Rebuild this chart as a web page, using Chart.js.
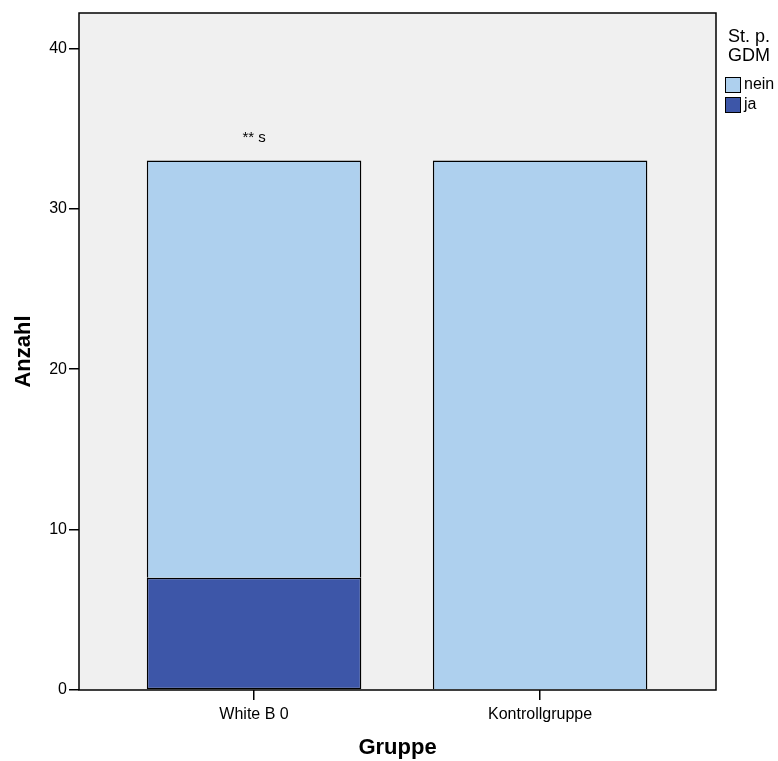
<!DOCTYPE html>
<html>
<head>
<meta charset="utf-8">
<script src="https://cdn.jsdelivr.net/npm/chart.js@4"></script>
<style>
  body { margin: 0; background: #fff; }
  canvas { display: block; }
</style>
</head>
<body>
<canvas id="chart" width="778" height="761"></canvas>
<script>
const groups = ["White B 0", "Kontrollgruppe"];
const jaCounts = [7, 0];
const neinCounts = [26, 33];
const notes = ["** s", ""];
const legendTitle = ["St. p.", "GDM"];
const yTicks = [0, 10, 20, 30, 40];

const FONT = "'Liberation Sans', Arial, Helvetica, sans-serif";

// grey plot area + frame
const plotFrame = {
    id: "plotFrame",
    beforeDraw(chart) {
        const { ctx, chartArea: a } = chart;
        ctx.save();
        ctx.fillStyle = "#f0f0f0";
        ctx.fillRect(a.left, a.top, a.right - a.left, a.bottom - a.top);
        ctx.restore();
    },
    afterDatasetsDraw(chart) {
        const { ctx, chartArea: a } = chart;
        ctx.save();
        ctx.strokeStyle = "#000";
        ctx.lineWidth = 1.5;
        ctx.strokeRect(a.left, a.top, a.right - a.left, a.bottom - a.top);
        ctx.restore();
    }
};

// significance notes above the bars
const barNotes = {
    id: "barNotes",
    afterDatasetsDraw(chart) {
        const { ctx } = chart;
        const xs = chart.scales.x, ys = chart.scales.y;
        ctx.save();
        ctx.fillStyle = "#000";
        ctx.font = "15px " + FONT;
        ctx.textAlign = "center";
        ctx.textBaseline = "middle";
        notes.forEach((t, i) => {
            if (!t) return;
            const total = jaCounts[i] + neinCounts[i];
            ctx.fillText(t, xs.getPixelForValue(i), ys.getPixelForValue(total) - 23);
        });
        ctx.restore();
    }
};

// SPSS style legend on the right
const sideLegend = {
    id: "sideLegend",
    afterDraw(chart) {
        const { ctx } = chart;
        ctx.save();
        ctx.fillStyle = "#000";
        ctx.font = "18px " + FONT;
        ctx.textAlign = "center";
        ctx.textBaseline = "middle";
        legendTitle.forEach((t, i) => ctx.fillText(t, 749, 37 + i * 19));

        const items = chart.data.datasets.slice().reverse();
        ctx.font = "16px " + FONT;
        ctx.textAlign = "left";
        items.forEach((ds, i) => {
            const y = 77 + i * 20;
            ctx.fillStyle = ds.backgroundColor;
            ctx.fillRect(725, y, 15, 15);
            ctx.strokeStyle = "#000";
            ctx.lineWidth = 1;
            ctx.strokeRect(725.5, y + 0.5, 15, 15);
            ctx.fillStyle = "#000";
            ctx.fillText(ds.label, 744, y + 8);
        });
        ctx.restore();
    }
};

new Chart(document.getElementById("chart"), {
    type: "bar",
    data: {
        datasets: [
            {
                label: "ja",
                data: jaCounts.map((v, i) => ({ x: i, y: v })),
                backgroundColor: "#3d56a8",
                borderColor: "#000",
                borderWidth: 1.5,
                borderSkipped: false
            },
            {
                label: "nein",
                data: neinCounts.map((v, i) => ({ x: i, y: v })),
                backgroundColor: "#aed0ee",
                borderColor: "#000",
                borderWidth: 1.5,
                borderSkipped: "start"
            }
        ]
    },
    options: {
        responsive: false,
        animation: false,
        categoryPercentage: 1,
        barPercentage: 0.75,
        layout: { padding: { top: 13, right: 62, left: 0, bottom: 0 } },
        plugins: {
            legend: { display: false },
            tooltip: { enabled: false }
        },
        scales: {
            x: {
                type: "linear",
                stacked: true,
                offset: false,
                min: -0.612,
                max: 1.615,
                afterBuildTicks: s => { s.ticks = groups.map((g, i) => ({ value: i })); },
                afterFit: s => { s.height = 71; },
                ticks: {
                    callback: v => groups[v],
                    color: "#000",
                    font: { family: FONT, size: 16 },
                    padding: 5,
                    maxRotation: 0
                },
                grid: { offset: false, drawOnChartArea: false, drawTicks: true, tickLength: 10, color: "#000", lineWidth: 1.5 },
                border: { display: false },
                title: {
                    display: true,
                    text: "Gruppe",
                    color: "#000",
                    font: { family: FONT, size: 22, weight: "bold" },
                    padding: { top: 0, bottom: 0 }
                }
            },
            y: {
                stacked: true,
                min: 0,
                max: 42.2,
                afterBuildTicks: s => { s.ticks = yTicks.map(v => ({ value: v })); },
                afterFit: s => { s.width = 79; },
                ticks: {
                    color: "#000",
                    font: { family: FONT, size: 16 },
                    padding: 2
                },
                grid: { drawOnChartArea: false, drawTicks: true, tickLength: 10, color: "#000", lineWidth: 1.5 },
                border: { display: false },
                title: {
                    display: true,
                    text: "Anzahl",
                    color: "#000",
                    font: { family: FONT, size: 22, weight: "bold" },
                    padding: { top: 11, bottom: 0 }
                }
            }
        }
    },
    plugins: [plotFrame, barNotes, sideLegend]
});
</script>
</body>
</html>
